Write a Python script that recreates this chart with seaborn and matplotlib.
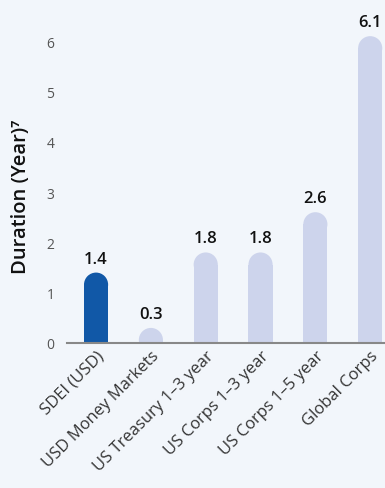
import matplotlib
matplotlib.use("Agg")
import matplotlib.pyplot as plt
import seaborn as sns
import pandas as pd
from matplotlib.patches import Ellipse

categories = ["SDEI (USD)", "USD Money Markets", "US Treasury 1\u20133 year",
              "US Corps 1\u20133 year", "US Corps 1\u20135 year", "Global Corps"]
values = [1.4, 0.3, 1.8, 1.8, 2.6, 6.1]
labels = ["1.4", "0.3", "1.8", "1.8", "2.6", "6.1"]
yticks = [0, 1, 2, 3, 4, 5, 6]

BG = "#F2F6FB"
DARK = "#1158A7"
LIGHT = "#CDD4EC"

sns.set_style("white")
plt.rcParams["font.family"] = ["Open Sans", "DejaVu Sans"]

fig = plt.figure(figsize=(3.85, 4.89), dpi=100, facecolor=BG)
ax = fig.add_axes([67/385, 145/489, 318/385, (344-12)/489])
ax.set_facecolor(BG)

df = pd.DataFrame({"cat": categories, "val": values})
palette = [DARK] + [LIGHT] * (len(categories) - 1)
sns.barplot(data=df, x="cat", y="val", hue="cat", palette=palette,
            width=0.44, ax=ax, legend=False, saturation=1)

ax.set_xlim(-0.53, 5.27)
ax.set_ylim(0, 6.6)
fig.canvas.draw()

# rounded caps
bbox = ax.get_window_extent()
px_per_x = bbox.width / (ax.get_xlim()[1] - ax.get_xlim()[0])
px_per_y = bbox.height / (ax.get_ylim()[1] - ax.get_ylim()[0])
for p, lab in zip(list(ax.patches), labels):
    x0 = p.get_x(); w = p.get_width(); h = p.get_height()
    r_px = w * px_per_x / 2
    ry = r_px / px_per_y
    col = p.get_facecolor()
    p.set_height(max(h - ry, 0))
    p.set_edgecolor("none")
    e = Ellipse((x0 + w/2, h - ry), w, 2*ry, facecolor=col, edgecolor="none")
    ax.add_patch(e)
    ax.text(x0 + w/2, h + 0.12, lab, ha="center", va="bottom",
            fontsize=12, fontweight="semibold", color="#111111")

ax.set_yticks(yticks)
ax.set_yticklabels([str(t) for t in yticks])
ax.tick_params(axis="y", length=0, pad=9, labelsize=10, labelcolor="#555555")
ax.tick_params(axis="x", length=0, pad=3, labelsize=12, labelcolor="#333333")
plt.setp(ax.get_xticklabels(), rotation=45, ha="right", rotation_mode="anchor")
ax.set_xlabel("")
ax.set_ylabel("Duration (Year)\u2077", fontsize=14.5, fontweight="semibold",
              color="#111111")
ax.yaxis.set_label_coords(-0.112, 0.443)

for s in ["top", "right", "left"]:
    ax.spines[s].set_visible(False)
ax.spines["bottom"].set_color("#888888")
ax.spines["bottom"].set_linewidth(1.5)

fig.savefig("out.png", dpi=100, facecolor=BG)
